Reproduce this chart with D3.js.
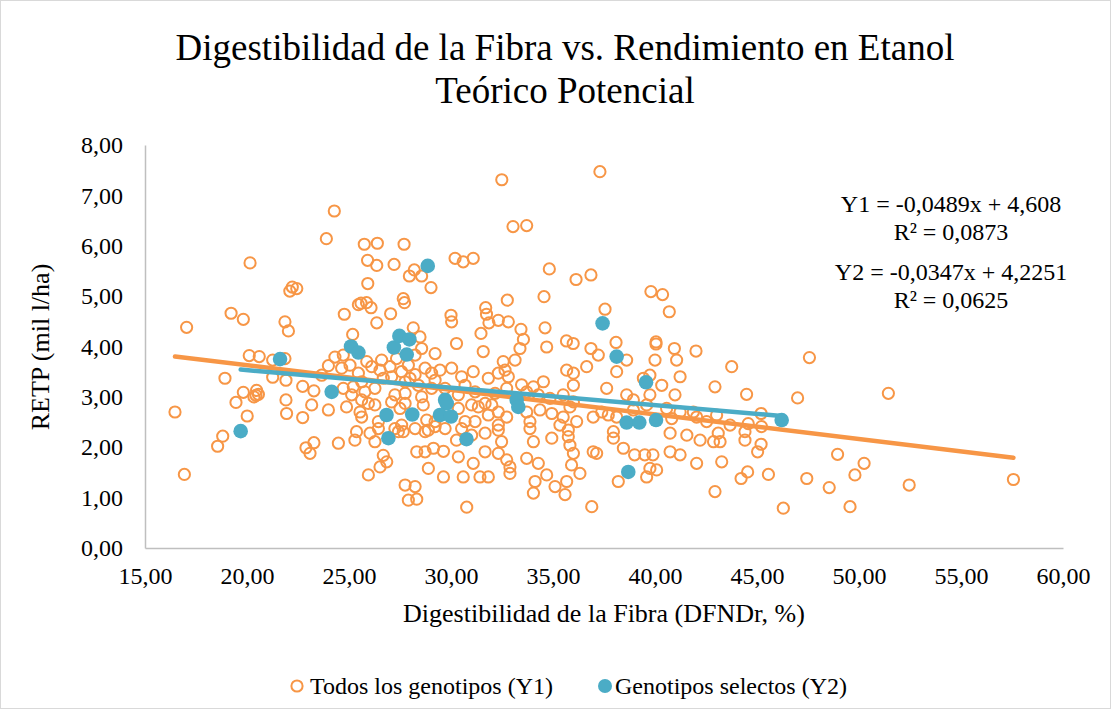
<html>
<head>
  <script src="https://d3js.org/d3.v7.min.js"></script>
  <title>Digestibilidad de la Fibra vs. Rendimiento en Etanol</title>
  <style>
    body { margin: 0; background: #fff; }
    text { font-family: "Liberation Serif", "Times New Roman", serif; fill: #000; }
  </style>
</head>
<body>
  <svg id="chart" width="1117" height="715"></svg>

  <script>
    // All genotypes (Y1): [DFNDr %, RETP mil l/ha]
    let todos = [
      [24.28,6.69],[23.89,6.14],[20.15,5.66],[22.22,5.18],[22.44,5.15],[22.1,5.1],[19.22,4.66],[19.82,4.54],[17.04,4.38],[21.86,4.49],[22.03,4.31],[24.77,4.64],[25.46,4.83],[25.18,4.24],
      [20.11,3.82],[20.6,3.80],[21.86,3.76],[21.26,3.73],[23.99,3.62],[23.66,3.43],[18.92,3.37],[21.26,3.39],[21.91,3.33],[22.73,3.21],[23.28,3.12],[19.82,3.09],[20.47,3.13],[20.56,3.05],[20.34,3.0],[20.44,3.03],[19.46,2.89],[21.91,2.94],[21.94,2.67],[23.17,2.84],[22.73,2.59],[23.99,2.74],[16.47,2.70],[20.01,2.62],[18.81,2.22],[18.56,2.02],[22.89,1.99],[23.28,2.09],[23.09,1.88],[16.93,1.46],
      [32.49,7.31],[33.04,6.38],[33.71,6.40],[25.75,6.03],[26.39,6.05],[27.70,6.03],[25.91,5.71],[26.36,5.61],[27.21,5.63],[28.20,5.52],[27.96,5.40],[28.56,5.40],[29.02,5.17],[30.2,5.75],[30.6,5.68],[31.09,5.75],[25.92,5.25],[34.82,5.54],[36.13,5.33],[25.59,4.86],[25.86,4.87],[26.08,4.77],[27.66,4.95],[27.72,4.87],[27.04,4.65],[26.36,4.47],[31.7,4.77],[31.74,4.64],[31.86,4.47],[32.76,4.92],[32.32,4.52],[32.81,4.49],[33.43,4.34],[33.55,4.14],[34.56,4.99],[34.61,4.37],[30.0,4.62],[30.03,4.49],[31.47,4.26],[28.15,4.37],[28.48,4.19],[30.27,4.06],[35.66,4.11],[35.99,4.06],[34.69,3.99],
      [37.30,7.47],[36.86,5.42],[39.80,5.09],[40.37,5.03],[37.55,4.74],[40.70,4.69],[38.09,4.08],[40.05,4.09],[40.05,4.05],[40.95,3.96],[42.01,3.91],[36.86,3.96],
      [24.31,3.79],[24.72,3.83],[26.6,3.73],[27.33,3.76],[28.24,3.83],[28.56,3.96],[29.22,3.86],[31.58,3.90],[32.56,3.70],[33.14,3.73],[33.38,3.96],
      [24.64,3.57],[25.46,3.47],[26.11,3.60],[26.52,3.53],[27.01,3.60],[27.58,3.50],[27.91,3.63],[28.24,3.44],[28.73,3.57],[29.05,3.47],[29.46,3.53],[30.03,3.57],[30.52,3.40],[31.09,3.50],[31.83,3.37],[32.32,3.47],[32.81,3.40],[32.65,3.53],
      [24.72,3.17],[25.21,3.20],[25.78,3.10],[26.27,3.17],[27.25,3.04],[27.75,3.07],[28.56,3.00],[29.05,3.17],[30.36,3.04],[31.18,3.10],[31.67,2.87],[32.16,3.07],[32.73,3.17],[33.46,3.24],
      [24.88,2.80],[25.54,2.70],[25.62,2.60],[26.27,2.84],[26.44,2.51],[27.50,2.77],[27.58,2.44],[28.64,2.84],[28.81,2.54],[29.22,2.41],[30.36,2.77],[30.69,2.51],[31.34,2.80],[31.83,2.64],[32.32,2.44],[32.73,2.60],
      [24.48,2.08],[25.29,2.14],[25.37,2.31],[26.03,2.28],[26.27,2.11],[27.25,2.37],[27.66,2.31],[28.73,2.31],[28.89,2.34],[30.27,2.14],[31.01,2.24],[31.67,2.28],[32.32,2.34],[32.48,2.11],
      [28.32,1.91],[28.73,1.91],[29.14,1.98],[29.63,1.92],[26.68,1.84],[26.85,1.71],[26.52,1.61],[25.95,1.45],[28.89,1.58],[29.63,1.41],[30.6,1.41],[31.42,1.41],[31.83,1.41],[30.36,1.81],[31.09,1.68],[31.67,1.91],[32.32,1.88],[32.73,1.75],[32.89,1.61],[32.89,1.48],
      [27.75,1.25],[28.24,1.22],[27.91,0.95],[28.32,0.97],[30.77,0.81],
      [25.62,2.94],[25.95,2.87],[26.68,3.37],[27.09,3.40],[27.75,3.30],[28.4,3.23],[27.99,3.37],[29.22,3.33],[29.71,3.17],[30.69,3.23],[31.01,2.84],[32.0,2.84],[32.32,2.70],[27.09,2.90],[27.75,2.87],[26.44,2.37],[27.42,2.31],[28.24,2.37],[29.22,2.51],[29.71,2.37],[30.52,2.37],[31.18,2.51],[25.13,3.04],[25.05,3.63],[25.87,3.70],[25.62,3.30],
      [37.22,3.83],[38.61,3.73],[40.0,3.73],[41.06,3.73],
      [35.67,3.53],[36.0,3.47],[36.65,3.60],[38.12,3.50],[36.0,3.23],[34.53,3.30],[34.04,3.20],[37.63,3.17],[39.43,3.37],[39.75,3.43],[40.33,3.23],[41.23,3.40],[40.98,3.04],[42.94,3.20],
      [33.71,3.10],[34.28,3.04],[34.85,2.97],[35.5,3.04],[35.83,2.80],[36.0,2.90],[34.94,2.67],[33.87,2.51],[34.36,2.74],[35.5,2.60],[36.16,2.51],[36.97,2.60],[37.39,2.70],[37.71,2.64],[38.12,2.60],[38.61,3.04],[38.94,2.94],[38.94,2.74],[39.59,2.84],[39.75,3.04],[40.57,2.77],[40.82,2.57],[41.23,2.70],[41.88,2.70],[42.04,2.60],[42.53,2.51],[43.02,2.64],[33.71,2.70],
      [33.87,2.37],[35.34,2.44],[35.75,2.34],[35.75,2.21],[34.94,2.18],[34.04,2.11],[35.83,2.04],[37.96,2.31],[37.96,2.18],[38.45,1.98],[40.74,2.28],[41.56,2.24],[42.21,2.14],[42.87,2.11],[36.97,1.91],[37.14,1.88],[40.74,1.91],[41.23,1.85],
      [33.71,1.78],[34.28,1.68],[36.0,1.88],[35.91,1.65],[36.32,1.48],[34.69,1.45],[34.12,1.32],[35.67,1.32],[35.1,1.22],[34.04,1.09],[35.59,1.06],[38.2,1.32],[39.0,1.85],[39.5,1.85],[39.9,1.85],[39.75,1.58],[39.59,1.41],[40.08,1.55],[42.04,1.68],[42.94,1.12],[36.9,0.82],
      [47.57,3.78],[43.76,3.60],[44.49,3.05],[46.99,2.98],[51.44,3.07],[45.2,2.67],[44.57,2.47],[43.68,2.44],[44.41,2.31],[45.22,2.41],[43.1,2.28],[43.19,2.11],[44.41,2.14],[45.2,2.06],[45.03,1.91],[43.27,1.71],[44.54,1.51],[44.22,1.38],[45.56,1.46],[47.44,1.38],[48.95,1.86],[50.25,1.68],[49.80,1.45],[48.54,1.20],[52.46,1.25],[46.29,0.79],[49.56,0.82],
      [57.57,1.36]
    ];

    // Selected genotypes (Y2)
    let selectos = [
      [25.1,4.0],[25.46,3.88],[27.2,3.98],[27.47,4.21],[27.96,4.14],[27.83,3.84],[21.62,3.75],[28.86,5.60],[37.43,4.46],[38.12,3.80],
      [39.56,3.29],[38.61,2.49],[39.23,2.49],[40.05,2.54],[38.69,1.51],[46.21,2.54],[24.15,3.10],[26.84,2.64],[28.1,2.65],[26.93,2.18],
      [29.71,2.94],[29.79,2.87],[29.46,2.64],[30.0,2.61],[30.76,2.16],[33.22,2.94],[33.3,2.80],[19.69,2.32]
    ];

    // Trend line coefficients [slope, intercept] and labels
    let trendY1 = [-0.0489, 4.608];
    let trendY2 = [-0.0347, 4.2251];
    let eqLabels = ["Y1 = -0,0489x + 4,608", "R² = 0,0873", "Y2 = -0,0347x + 4,2251", "R² = 0,0625"];

    let xTicks = [15, 20, 25, 30, 35, 40, 45, 50, 55, 60];
    let yTicks = [0, 1, 2, 3, 4, 5, 6, 7, 8];

    let orange = "#F79646", blue = "#4BACC6", axisGray = "#bfbfbf";

    let svg = d3.select("#chart");
    let locale = d3.formatLocale({decimal: ",", thousands: ".", grouping: [3], currency: ["", ""]});
    let fmt = locale.format(".2f");

    // chart border
    svg.append("rect")
      .attr("x", 0.5).attr("y", 0.5).attr("width", 1110).attr("height", 708)
      .attr("fill", "#fff").attr("stroke", "#d9d9d9");

    let x = d3.scaleLinear().domain([15, 60]).range([145, 1063]);
    let y = d3.scaleLinear().domain([0, 8]).range([548, 145]);

    // Axes
    let xAxis = svg.append("g")
      .attr("transform", "translate(0,548)")
      .call(d3.axisBottom(x).tickValues(xTicks).tickFormat(fmt).tickSize(0).tickSizeOuter(0).tickPadding(19));
    let yAxis = svg.append("g")
      .attr("transform", "translate(145,0)")
      .call(d3.axisLeft(y).tickValues(yTicks).tickFormat(fmt).tickSize(0).tickSizeOuter(0).tickPadding(22));

    [xAxis, yAxis].forEach(a => {
      a.select(".domain").attr("stroke", axisGray).attr("stroke-width", 1.5);
      a.selectAll("text")
        .attr("font-family", "'Liberation Serif', 'Times New Roman', serif")
        .attr("font-size", 24).attr("fill", "#000");
    });

    // Title
    svg.append("text").attr("x", 565).attr("y", 60).attr("text-anchor", "middle")
      .attr("font-size", 37).text("Digestibilidad de la Fibra vs. Rendimiento en Etanol");
    svg.append("text").attr("x", 565).attr("y", 103).attr("text-anchor", "middle")
      .attr("font-size", 37).text("Teórico Potencial");

    // Axis titles
    svg.append("text").attr("x", 604).attr("y", 622).attr("text-anchor", "middle")
      .attr("font-size", 26).text("Digestibilidad de la Fibra (DFNDr, %)");
    svg.append("text").attr("transform", "translate(49,347) rotate(-90)").attr("text-anchor", "middle")
      .attr("font-size", 26).text("RETP (mil l/ha)");

    // Points: all genotypes (open circles)
    svg.append("g").selectAll("circle").data(todos).join("circle")
      .attr("cx", d => x(d[0]))
      .attr("cy", d => y(d[1]))
      .attr("r", 5.6)
      .attr("fill", "none")
      .attr("stroke", orange)
      .attr("stroke-width", 2);

    // Trend lines
    function trend(data, coef, color) {
      let ext = d3.extent(data, d => d[0]);
      let line = d3.line().x(d => x(d)).y(d => y(coef[0] * d + coef[1]));
      svg.append("path").datum(ext)
        .attr("d", line)
        .attr("fill", "none")
        .attr("stroke", color)
        .attr("stroke-width", 4.5)
        .attr("stroke-linecap", "round");
    }
    trend(todos, trendY1, orange);
    trend(selectos, trendY2, blue);

    // Points: selected genotypes (filled)
    svg.append("g").selectAll("circle").data(selectos).join("circle")
      .attr("cx", d => x(d[0]))
      .attr("cy", d => y(d[1]))
      .attr("r", 7.3)
      .attr("fill", blue);

    // Equations
    let eqY = [212, 240, 280, 308];
    svg.append("g").selectAll("text").data(eqLabels).join("text")
      .attr("x", 951)
      .attr("y", (d, i) => eqY[i])
      .attr("text-anchor", "middle")
      .attr("font-size", 24)
      .text(d => d);

    // Legend
    let legend = svg.append("g").attr("transform", "translate(0,686)");
    legend.append("circle").attr("cx", 297).attr("cy", 0).attr("r", 5.6)
      .attr("fill", "none").attr("stroke", orange).attr("stroke-width", 2);
    legend.append("text").attr("x", 310).attr("y", 8).attr("font-size", 24).text("Todos los genotipos (Y1)");
    legend.append("circle").attr("cx", 605).attr("cy", 0).attr("r", 7)
      .attr("fill", blue);
    legend.append("text").attr("x", 615).attr("y", 8).attr("font-size", 24).text("Genotipos selectos (Y2)");
  </script>
</body>
</html>
